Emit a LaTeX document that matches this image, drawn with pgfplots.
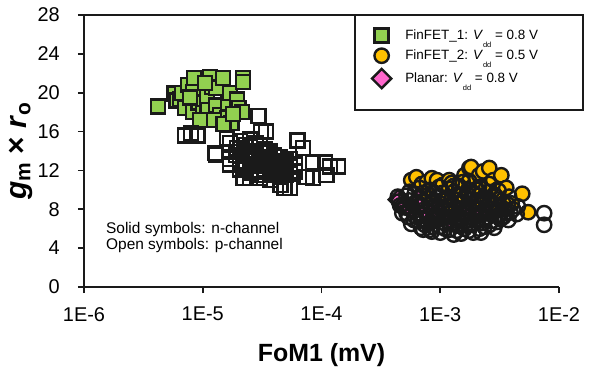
\documentclass[border=0pt]{standalone}
\usepackage{pgfplots}
\pgfplotsset{compat=1.18}
\usepackage{fontspec}
\setmainfont{Liberation Sans}
\definecolor{fgreen}{HTML}{92D050}
\definecolor{fyellow}{HTML}{FFC000}
\definecolor{fpink}{HTML}{FF66CC}
\definecolor{mk}{HTML}{1A1A1A}
\begin{document}
\begin{tikzpicture}
\begin{axis}[
  scale only axis, width=475bp, height=272bp,
  xmode=log, xmin=1e-6, xmax=1e-2, ymin=0, ymax=28,
  xtick={1e-6,1e-5,1e-4,1e-3,1e-2},
  xticklabels={1E-6,1E-5,1E-4,1E-3,1E-2},
  ytick={0,4,...,28},
  xminorticks=false,
  axis x line*=bottom, axis y line*=left,
  axis line style={line width=1.8bp, color=mk, -},
  tick style={line width=1.8bp, color=mk},
  tick align=outside, major tick length=6bp,
  /pgf/number format/assume math mode=true,
  ticklabel style={font=\fontsize{20}{22}\selectfont, inner sep=0pt},
  yticklabel style={xshift=-18bp},
  xticklabel style={yshift=-14bp},
  xlabel={\textbf{FoM1 (mV)}},
  ylabel={\textbf{\textit{g}\textsubscript{m} × \textit{r}\textsubscript{o}}},
  every axis x label/.style={at={(axis description cs:0.5,0)}, anchor=north, yshift=-56bp, font=\fontsize{25}{27}\selectfont, inner sep=0pt},
  every axis y label/.style={at={(axis description cs:-0.1326,0.5)}, rotate=90, anchor=center, font=\fontsize{30}{32}\selectfont, inner sep=0pt},
  legend style={at={(axis description cs:0.606,0.951)}, anchor=north west, draw=none, fill=none, row sep=6bp, column sep=0bp, font=\fontsize{13.5}{15}\selectfont, inner sep=0pt, nodes={inner sep=1bp}},
  legend cell align=left,
  clip=false,
]
\addlegendimage{only marks, mark=square*, mark size=7bp, mark options={fill=fgreen, draw=mk, line width=2.4bp}}
\addlegendentry{\hspace{13bp}FinFET\_1: \textit{V}\raisebox{-8bp}[0pt][0pt]{\fontsize{7.5}{7.5}\selectfont dd} = 0.8 V}
\addlegendimage{only marks, mark=*, mark size=7.2bp, mark options={fill=fyellow, draw=mk, line width=2.4bp}}
\addlegendentry{\hspace{13bp}FinFET\_2: \textit{V}\raisebox{-8bp}[0pt][0pt]{\fontsize{7.5}{7.5}\selectfont dd} = 0.5 V}
\addlegendimage{only marks, mark=square*, mark size=6.8bp, mark options={fill=fpink, draw=mk, line width=2.4bp, rotate=45}}
\addlegendentry{\hspace{13bp}Planar: \textit{V}\raisebox{-8bp}[0pt][0pt]{\fontsize{7.5}{7.5}\selectfont dd} = 0.8 V}

% Planar (pink diamonds)
\addplot[forget plot, only marks, mark=square*, mark size=6.5bp, mark options={fill=fpink, draw=mk, line width=2.4bp, rotate=45}] table {
x y
4.4e-4 9.0
5.0e-4 8.6
6.0e-4 7.8
7.0e-4 8.4
8.0e-4 7.2
9.0e-4 8.0
1.0e-3 7.5
1.1e-3 8.2
1.2e-3 7.0
1.3e-3 7.8
1.5e-3 8.4
1.6e-3 7.3
1.8e-3 8.0
2.0e-3 7.4
2.3e-3 7.8
6.5e-4 9.0
1.4e-3 9.0
2.6e-3 8.5
};
% FinFET_2 n-channel (yellow circles)
\addplot[forget plot, only marks, mark=*, mark size=7.2bp, mark options={fill=fyellow, draw=mk, line width=2.4bp}] table {
x y
5.7e-4 11.0
6.3e-4 11.3
7.0e-4 10.6
7.7e-4 10.8
8.5e-4 11.2
9.4e-4 11.0
1.05e-3 10.5
1.19e-3 11.0
1.3e-3 10.4
1.45e-3 10.7
1.6e-3 11.5
1.76e-3 12.25
1.82e-3 12.35
1.93e-3 10.3
2.0e-3 11.0
2.13e-3 11.5
2.3e-3 11.9
2.44e-3 10.2
2.59e-3 12.25
2.8e-3 11.0
3.0e-3 10.0
3.27e-3 11.5
3.4e-3 9.0
3.6e-3 10.2
4.0e-3 8.6
4.9e-3 9.6
5.5e-3 7.7
8.0e-4 9.5
1.1e-3 9.0
1.5e-3 9.4
2.0e-3 8.8
2.5e-3 9.1
1.2e-3 8.2
3.0e-3 8.0
};
% FinFET_2 p-channel (open circles)
\addplot[forget plot, only marks, mark=o, mark size=7.2bp, mark options={draw=mk, line width=2.4bp}] table {
x y
4.4e-4 9.3
4.6e-4 8.4
4.8e-4 7.6
5.5e-4 9.8
5.5e-4 8.9
5.6e-4 8.0
5.4e-4 7.2
5.7e-4 6.5
6.7e-4 10.2
6.6e-4 9.3
6.8e-4 8.5
6.7e-4 7.6
6.5e-4 6.8
6.9e-4 6.1
8.1e-4 10.0
8.0e-4 9.1
8.3e-4 8.2
8.1e-4 7.3
7.9e-4 6.5
8.2e-4 5.9
9.8e-4 10.3
9.6e-4 9.4
1.0e-3 8.6
9.8e-4 7.8
9.5e-4 7.0
1.0e-3 6.2
1.19e-3 10.1
1.17e-3 9.2
1.21e-3 8.3
1.19e-3 7.5
1.16e-3 6.7
1.2e-3 5.9
1.44e-3 10.4
1.42e-3 9.5
1.46e-3 8.7
1.44e-3 7.9
1.40e-3 7.1
1.45e-3 6.3
1.75e-3 10.9
1.72e-3 10.0
1.78e-3 9.0
1.75e-3 8.1
1.70e-3 7.2
1.76e-3 6.4
1.74e-3 5.8
2.12e-3 10.3
2.10e-3 9.4
2.15e-3 8.5
2.12e-3 7.6
2.08e-3 6.8
2.14e-3 6.0
2.58e-3 10.6
2.55e-3 9.8
2.62e-3 8.9
2.58e-3 8.0
2.52e-3 7.2
2.60e-3 6.4
3.1e-3 9.9
3.05e-3 9.0
3.15e-3 8.2
3.1e-3 7.4
3.0e-3 6.7
3.8e-3 9.3
3.7e-3 8.5
3.9e-3 7.7
3.75e-3 6.9
4.5e-3 8.3
4.4e-3 7.5
7.5e-3 7.6
7.5e-3 6.4
5.0e-4 8.2
6.1e-4 9.6
7.4e-4 8.8
8.9e-4 9.7
1.08e-3 9.0
1.3e-3 9.8
1.6e-3 9.2
1.9e-3 9.7
2.35e-3 9.2
2.85e-3 9.5
3.4e-3 8.6
6.1e-4 7.3
7.4e-4 6.4
8.9e-4 6.9
1.08e-3 6.6
1.3e-3 6.6
1.6e-3 6.0
1.9e-3 6.5
2.35e-3 6.2
2.85e-3 6.1
3.4e-3 7.2
1.55e-3 10.8
1.25e-3 10.7
7.0e-4 7.0
9.0e-4 8.4
1.1e-3 7.2
1.35e-3 8.2
1.65e-3 7.6
2.0e-3 8.0
2.4e-3 7.0
2.9e-3 7.8
3.5e-3 8.0
1.0e-3 5.6
1.5e-3 5.5
2.2e-3 5.6
4.5e-4 8.8
5.2e-4 9.4
5.2e-4 7.6
6.2e-4 8.6
6.0e-4 6.9
7.2e-4 9.7
7.6e-4 7.8
7.2e-4 5.9
8.6e-4 8.7
8.6e-4 6.2
9.2e-4 7.4
1.05e-3 9.7
1.12e-3 8.0
1.1e-3 6.0
1.27e-3 7.2
1.33e-3 9.0
1.38e-3 5.8
1.52e-3 8.0
1.58e-3 6.7
1.68e-3 9.6
1.85e-3 8.6
1.82e-3 6.9
1.98e-3 7.3
2.05e-3 10.0
2.25e-3 8.8
2.28e-3 6.6
2.45e-3 7.6
2.7e-3 8.4
2.7e-3 6.8
2.95e-3 9.3
3.2e-3 7.0
3.6e-3 7.6
4.1e-3 8.0
1.3e-3 5.4
1.9e-3 5.6
8.5e-4 5.7
};
% FinFET_1 n-channel (green squares)
\addplot[forget plot, only marks, mark=square*, mark size=7bp, mark options={fill=fgreen, draw=mk, line width=2.4bp}] table {
x y
4.2e-6 18.6
5.8e-6 19.9
6.0e-6 19.2
6.4e-6 19.3
6.7e-6 20.0
7.1e-6 18.4
7.5e-6 20.8
8.4e-6 21.5
8.3e-6 20.1
8.3e-6 18.0
9.2e-6 19.0
1.0e-5 17.9
1.09e-5 19.6
1.15e-5 21.6
1.1e-5 18.2
1.2e-5 20.6
1.3e-5 20.5
1.3e-5 18.7
1.4e-5 17.7
1.48e-5 21.5
1.6e-5 17.4
1.63e-5 18.9
1.7e-5 20.0
1.75e-5 16.9
1.94e-5 19.3
2.0e-5 18.4
2.15e-5 18.0
2.18e-5 21.5
2.18e-5 21.1
1.25e-5 17.2
1.5e-5 16.8
9.5e-6 17.2
7.8e-6 19.5
1.8e-5 17.8
1.05e-5 21.0
};
% FinFET_1 p-channel (open squares)
\addplot[forget plot, only marks, mark=square, mark size=7bp, mark options={draw=mk, line width=2.4bp}] table {
x y
7.1e-6 15.6
9.0e-6 15.6
8.0e-6 15.8
1.3e-5 13.6
1.27e-5 13.8
1.6e-5 15.3
2.95e-5 17.6
3.1e-5 16.0
3.4e-5 16.0
1.94e-5 14.3
2.05e-5 12.9
2.2e-5 11.2
2.5e-5 11.2
6.3e-5 15.1
7.0e-5 14.3
8.5e-5 12.8
1.07e-4 12.8
1.18e-4 12.4
1.37e-4 12.4
8.5e-5 11.2
1.1e-4 11.5
4.9e-5 10.2
4.5e-5 10.5
5.4e-5 10.2
7.5e-5 11.3
1.7e-5 14.8
1.7e-5 13.9
1.7e-5 13.2
1.7e-5 12.6
2.06e-5 15.0
2.06e-5 14.2
2.06e-5 13.5
2.06e-5 12.8
2.06e-5 12.1
2.3e-5 14.6
2.3e-5 13.8
2.3e-5 13.0
2.3e-5 12.4
2.5e-5 15.2
2.5e-5 14.4
2.5e-5 13.7
2.5e-5 13.1
2.5e-5 12.5
2.5e-5 11.8
2.8e-5 14.8
2.8e-5 14.0
2.8e-5 13.3
2.8e-5 12.6
2.8e-5 12.0
3.03e-5 14.5
3.03e-5 13.8
3.03e-5 13.2
3.03e-5 12.5
3.03e-5 11.9
3.03e-5 11.2
3.3e-5 14.2
3.3e-5 13.4
3.3e-5 12.7
3.3e-5 12.1
3.3e-5 11.5
3.68e-5 14.0
3.68e-5 13.2
3.68e-5 12.5
3.68e-5 11.8
3.68e-5 11.0
4.0e-5 13.6
4.0e-5 12.9
4.0e-5 12.2
4.0e-5 11.5
4.47e-5 13.4
4.47e-5 12.6
4.47e-5 11.9
4.47e-5 11.3
5.0e-5 12.9
5.0e-5 12.2
5.0e-5 11.5
5.43e-5 13.2
5.43e-5 12.4
5.43e-5 11.7
6.0e-5 12.6
6.0e-5 11.9
1.9e-5 13.6
2.2e-5 12.6
2.65e-5 13.5
3.15e-5 12.9
3.5e-5 13.8
3.9e-5 12.0
4.2e-5 13.0
4.7e-5 12.0
2.4e-5 14.0
2.9e-5 11.5
};
\draw[line width=1.8bp, color=mk] (axis description cs:0,1) -- (axis description cs:1,1);
\draw[line width=1.8bp, color=mk] (axis description cs:0.5705,1) rectangle (axis description cs:1.0505,0.651);
\node[anchor=north west, align=left, inner sep=0pt, font=\fontsize{15.5}{16}\selectfont] at (axis description cs:0.0463,0.237) {Solid symbols: n-channel\\Open symbols: p-channel};
\end{axis}
\pgfresetboundingbox
\path[use as bounding box] (-84bp,-81bp) rectangle (523bp,287bp);
\end{tikzpicture}
\end{document}
